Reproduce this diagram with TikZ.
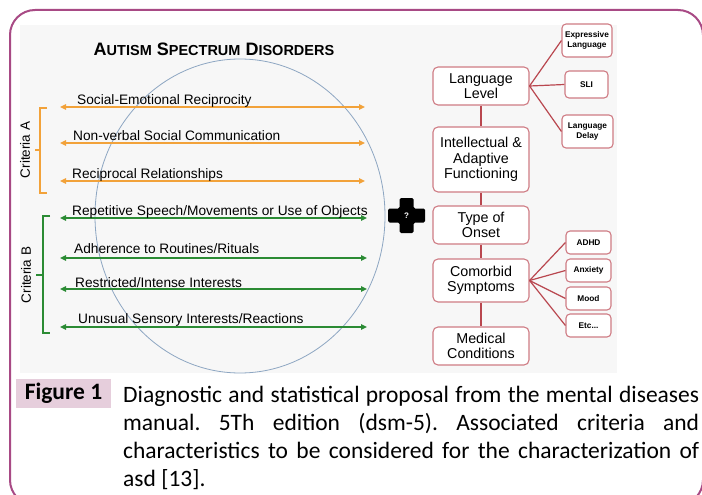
\documentclass[tikz,border=0pt]{standalone}
\usepackage{fontspec}
\setmainfont{Liberation Sans}
\newfontfamily\captionfont{Carlito}
\usetikzlibrary{arrows.meta}
\frenchspacing

\definecolor{framecol}{HTML}{A84A85}
\definecolor{figfill}{HTML}{E6CEDC}
\definecolor{panelbg}{HTML}{F7F7F7}
\definecolor{critA}{HTML}{F2A23A}
\definecolor{critB}{HTML}{2B8B34}
\definecolor{ellcol}{HTML}{8DA6C2}
\definecolor{boxcol}{HTML}{CF7C84}
\definecolor{linkcol}{HTML}{B9474F}

\begin{document}
\begin{tikzpicture}[x=1pt,y=-1pt,
  label/.style={anchor=base west, inner sep=0pt, font=\fontsize{13.7}{15}\selectfont},
  arrA/.style={critA, line width=1.5pt, {Triangle[length=6pt,width=5.5pt]}-{Triangle[length=6pt,width=5.5pt]}},
  arrB/.style={critB, line width=1.5pt, {Triangle[length=6pt,width=5.5pt]}-{Triangle[length=6pt,width=5.5pt]}},
  crit/.style={rotate=90, inner sep=0pt, font=\fontsize{13.5}{15}\selectfont},
  mainbox/.style={draw=boxcol, line width=1.1pt, rounded corners=5pt, fill=white,
    minimum width=96pt, align=center, inner sep=0pt, font=\fontsize{14.3}{15.5}\selectfont},
  smallbox/.style={draw=boxcol, line width=1.1pt, rounded corners=4pt, fill=white,
    align=center, inner sep=0pt, font=\bfseries\fontsize{8.3}{9.5}\selectfont},
  link/.style={linkcol, line width=1.2pt}]

\clip (0,0) rectangle (702,495);
\fill[white] (0,0) rectangle (702,495);
\fill[panelbg] (20,25) rectangle (617,373);

% outer frame
\draw[framecol, line width=2pt, rounded corners=25pt] (10,10) rectangle (703,505);

% title
\node[anchor=base, inner sep=0pt] (title) at (214,56)
  {\bfseries\fontsize{18}{20}\selectfont A{\fontsize{14.5}{20}\selectfont UTISM} S{\fontsize{14.5}{20}\selectfont PECTRUM} D{\fontsize{14.5}{20}\selectfont ISORDERS}};

% spectrum ellipse
\draw[ellcol, line width=0.8pt] (240,216) ellipse [x radius=145pt, y radius=157pt];

% criteria A
\foreach \n/\y in {1/107,2/143,3/181}{
  \coordinate (a\n l) at (60,\y);
  \coordinate (a\n r) at (365,\y);
  \draw[arrA] (a\n l) -- (a\n r);
}
\node[label] (a1t) at (77,104) {Social-Emotional Reciprocity};
\node[label] (a2t) at (73,140) {Non-verbal Social Communication};
\node[label] (a3t) at (72,178) {Reciprocal Relationships};
\draw[critA, line width=1.5pt] (47,108) -- (40,108) -- (40,193) -- (47,193);
\draw[critA, line width=1.5pt] (40,150) -- (35,150);
\node[crit] (critAt) at (25,150) {Criteria A};

% criteria B
\foreach \n/\y in {1/218,2/258,3/289,4/327}{
  \coordinate (b\n l) at (60,\y);
  \coordinate (b\n r) at (367,\y);
  \draw[arrB] (b\n l) -- (b\n r);
}
\node[label] (b1t) at (72,215) {Repetitive Speech/Movements or Use of Objects};
\node[label] (b2t) at (74,253) {Adherence to Routines/Rituals};
\node[label] (b3t) at (75,287) {Restricted/Intense Interests};
\node[label] (b4t) at (78,323) {Unusual Sensory Interests/Reactions};
\draw[critB, line width=1.5pt] (50,216) -- (43,216) -- (43,333) -- (50,333);
\draw[critB, line width=1.5pt] (43,275) -- (36,275);
\node[crit] (critBt) at (26,275) {Criteria B};

% plus sign with question mark
\fill[black, rounded corners=1.5pt] (399.5,198) -- (413.5,198) -- (413.5,208.5) -- (425,208.5)
  -- (425,222.5) -- (413.5,222.5) -- (413.5,233) -- (399.5,233) -- (399.5,222.5)
  -- (388,222.5) -- (388,208.5) -- (399.5,208.5) -- cycle;
\node[white, inner sep=0pt, font=\bfseries\fontsize{8}{8}\selectfont] (qmark) at (406.5,216) {?};

% associated characteristics
\node[mainbox, minimum height=38pt] (LL) at (481,86) {Language\\Level};
\node[mainbox, minimum height=65pt] (IAF) at (481,159.5) {Intellectual \&\\Adaptive\\Functioning};
\node[mainbox, minimum height=38pt] (TO) at (481,225) {Type of\\Onset};
\node[mainbox, minimum height=43pt] (CS) at (481,280.5) {Comorbid\\Symptoms};
\node[mainbox, minimum height=38pt] (MC) at (481,346) {Medical\\Conditions};

\draw[link] (LL) -- (IAF);
\draw[link] (IAF) -- (TO);
\draw[link] (TO) -- (CS);
\draw[link] (CS) -- (MC);

\node[smallbox, minimum width=50pt, minimum height=33pt] (EL) at (587,40.5) {Expressive\\Language};
\node[smallbox, minimum width=43pt, minimum height=27pt] (SLI) at (586.5,84.5) {SLI};
\node[smallbox, minimum width=51pt, minimum height=33pt] (LD) at (587.5,131.5) {Language\\Delay};

\node[smallbox, minimum width=45pt, minimum height=23pt] (ADHD) at (588.5,242.5) {ADHD};
\node[smallbox, minimum width=45pt, minimum height=23pt] (ANX) at (588.5,270.5) {Anxiety};
\node[smallbox, minimum width=45pt, minimum height=23pt] (MOOD) at (588.5,298.5) {Mood};
\node[smallbox, minimum width=45pt, minimum height=23pt] (ETC) at (588.5,325.5) {Etc...};

\foreach \t in {EL,SLI,LD}{\draw[link] (LL.east) -- (\t.west);}
\foreach \t in {ADHD,ANX,MOOD,ETC}{\draw[link] (CS.east) -- (\t.west);}

% caption
\node[fill=figfill, minimum width=95pt, minimum height=29pt, inner sep=0pt,
  font=\captionfont\bfseries\fontsize{23.5}{26}\selectfont] (figlabel) at (63.5,393.5) {Figure 1};
\node[anchor=base west, inner sep=0pt] (caption) at (123,402)
  {\parbox[t]{576pt}{\captionfont\fontsize{23.5}{28}\selectfont
   \makebox[576pt][s]{Diagnostic and statistical proposal from the mental diseases}\\
   \makebox[576pt][s]{manual. 5Th edition (dsm-5). Associated criteria and}\\
   \makebox[576pt][s]{characteristics to be considered for the characterization of}\\
   asd [13].}};
\end{tikzpicture}
\end{document}
